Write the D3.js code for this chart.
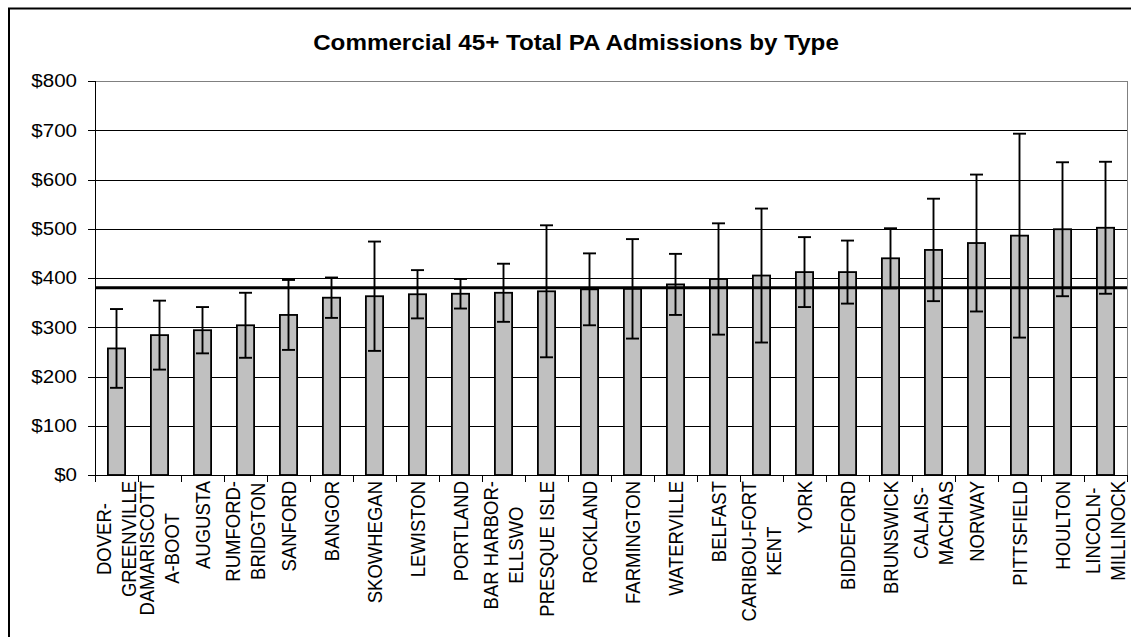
<!DOCTYPE html>
<html>
<head>
<meta charset="utf-8">
<script src="https://cdn.jsdelivr.net/npm/d3@7/dist/d3.min.js"></script>
<style>
  html, body { margin: 0; padding: 0; background: #fff; }
  svg { display: block; }
  text { font-family: "Liberation Sans", Arial, Helvetica, sans-serif; fill: #000; }
</style>
</head>
<body>
<svg id="chart" width="1131" height="637"></svg>
<script>
// ---- data ----
const chartTitle = "Commercial 45+ Total PA Admissions by Type";
const categories = [
  ["DOVER-", "GREENVILLE"], ["DAMARISCOTT", "A-BOOT"], ["AUGUSTA"], ["RUMFORD-", "BRIDGTON"],
  ["SANFORD"], ["BANGOR"], ["SKOWHEGAN"], ["LEWISTON"], ["PORTLAND"], ["BAR HARBOR-", "ELLSWO"],
  ["PRESQUE ISLE"], ["ROCKLAND"], ["FARMINGTON"], ["WATERVILLE"], ["BELFAST"], ["CARIBOU-FORT", "KENT"],
  ["YORK"], ["BIDDEFORD"], ["BRUNSWICK"], ["CALAIS-", "MACHIAS"], ["NORWAY"], ["PITTSFIELD"],
  ["HOULTON"], ["LINCOLN-", "MILLINOCK"]
];
const values = [257, 284, 294, 304, 325, 360, 363, 367, 368, 370, 373, 377, 378, 387, 398, 405, 412, 412, 440, 457, 471, 486, 499, 502];
const errors = [80, 70, 47, 66, 71, 41, 111, 49, 30, 59, 134, 73, 101, 62, 113, 136, 71, 64, 61, 104, 139, 207, 136, 134];
const referenceValue = 380;
const yTicks = [0, 100, 200, 300, 400, 500, 600, 700, 800];

// ---- layout ----
const svg = d3.select("#chart");
const pLeft = 95, pRight = 1127, pTop = 81, pBottom = 475;
const sx = 1.11; // horizontal text stretch seen in the reference
const fs = 18.5;

const x = d3.scaleBand().domain(d3.range(categories.length)).range([pLeft, pRight]).paddingInner(0).paddingOuter(0);
const y = d3.scaleLinear().domain([0, 800]).range([pBottom, pTop]);
const barW = x.bandwidth() / 2.5;

// outer frame
svg.append("rect").attr("x", 9).attr("y", 8.5).attr("width", 1140).attr("height", 650)
  .attr("fill", "none").attr("stroke", "#000").attr("stroke-width", 2);

// gridlines
svg.append("g").selectAll("line").data(yTicks.filter(d => d > 0)).join("line")
  .attr("x1", pLeft).attr("x2", pRight)
  .attr("y1", d => Math.round(y(d)) + 0.5).attr("y2", d => Math.round(y(d)) + 0.5)
  .attr("stroke", d => d === 800 ? "#808080" : "#000").attr("stroke-width", 1);

// plot area right border
svg.append("line").attr("x1", pRight + 0.5).attr("x2", pRight + 0.5).attr("y1", y(800)).attr("y2", pBottom)
  .attr("stroke", "#808080").attr("stroke-width", 1);

// bars
svg.append("g").selectAll("rect").data(values).join("rect")
  .attr("x", (d, i) => x(i) + (x.bandwidth() - barW) / 2)
  .attr("y", d => y(d))
  .attr("width", barW)
  .attr("height", d => pBottom - y(d))
  .attr("fill", "#C0C0C0").attr("stroke", "#000").attr("stroke-width", 1.8);

// reference line
svg.append("line").attr("x1", pLeft).attr("x2", pRight)
  .attr("y1", y(referenceValue)).attr("y2", y(referenceValue))
  .attr("stroke", "#000").attr("stroke-width", 3);

// error bars
const eb = svg.append("g").attr("stroke", "#000").attr("stroke-width", 1.9);
values.forEach((v, i) => {
  const cx = x(i) + x.bandwidth() / 2;
  const hi = y(v + errors[i]), lo = y(v - errors[i]);
  eb.append("line").attr("x1", cx).attr("x2", cx).attr("y1", hi).attr("y2", lo);
  eb.append("line").attr("x1", cx - 6.5).attr("x2", cx + 6.5).attr("y1", hi).attr("y2", hi);
  eb.append("line").attr("x1", cx - 6.5).attr("x2", cx + 6.5).attr("y1", lo).attr("y2", lo);
});

// y axis
const yAxisG = svg.append("g");
yAxisG.append("line").attr("x1", pLeft + 0.5).attr("x2", pLeft + 0.5).attr("y1", y(800)).attr("y2", pBottom)
  .attr("stroke", "#000");
yAxisG.selectAll("line.tick").data(yTicks).join("line").attr("class", "tick")
  .attr("x1", pLeft - 7).attr("x2", pLeft)
  .attr("y1", d => Math.round(y(d)) + 0.5).attr("y2", d => Math.round(y(d)) + 0.5)
  .attr("stroke", "#000");
const fmt = d3.format("$,.0f");
yAxisG.selectAll("text").data(yTicks).join("text")
  .attr("transform", d => `translate(77,${y(d)}) scale(${sx},1)`)
  .attr("text-anchor", "end").attr("dy", "0.35em")
  .style("font-size", fs + "px")
  .text(d => fmt(d));

// x axis
const xAxisG = svg.append("g");
xAxisG.append("line").attr("x1", pLeft).attr("x2", pRight).attr("y1", pBottom + 0.5).attr("y2", pBottom + 0.5)
  .attr("stroke", "#000");
xAxisG.selectAll("line.tick").data(d3.range(categories.length + 1)).join("line").attr("class", "tick")
  .attr("x1", i => Math.round(pLeft + i * x.bandwidth()) + 0.5)
  .attr("x2", i => Math.round(pLeft + i * x.bandwidth()) + 0.5)
  .attr("y1", pBottom).attr("y2", pBottom + 7)
  .attr("stroke", "#000");

// x labels (rotated, wrapped, centered lines)
const pitch = 22.5;
categories.forEach((lines, i) => {
  const cx = x(i) + x.bandwidth() / 2;
  const g = xAxisG.append("g").attr("transform", `translate(${cx},481) scale(${sx},1) rotate(-90)`);
  const texts = lines.map((ln, k) => g.append("text")
    .style("font-size", fs + "px")
    .attr("text-anchor", "middle")
    .attr("y", (k - (lines.length - 1) / 2) * pitch)
    .attr("dy", "0.36em")
    .text(ln));
  const maxLen = d3.max(texts, t => t.node().getComputedTextLength());
  texts.forEach(t => t.attr("x", -maxLen / 2));
});

// title
svg.append("text")
  .attr("transform", `translate(576,50) scale(${sx},1)`)
  .attr("text-anchor", "middle")
  .style("font-size", "21.8px").style("font-weight", "bold")
  .text(chartTitle);
</script>
</body>
</html>
